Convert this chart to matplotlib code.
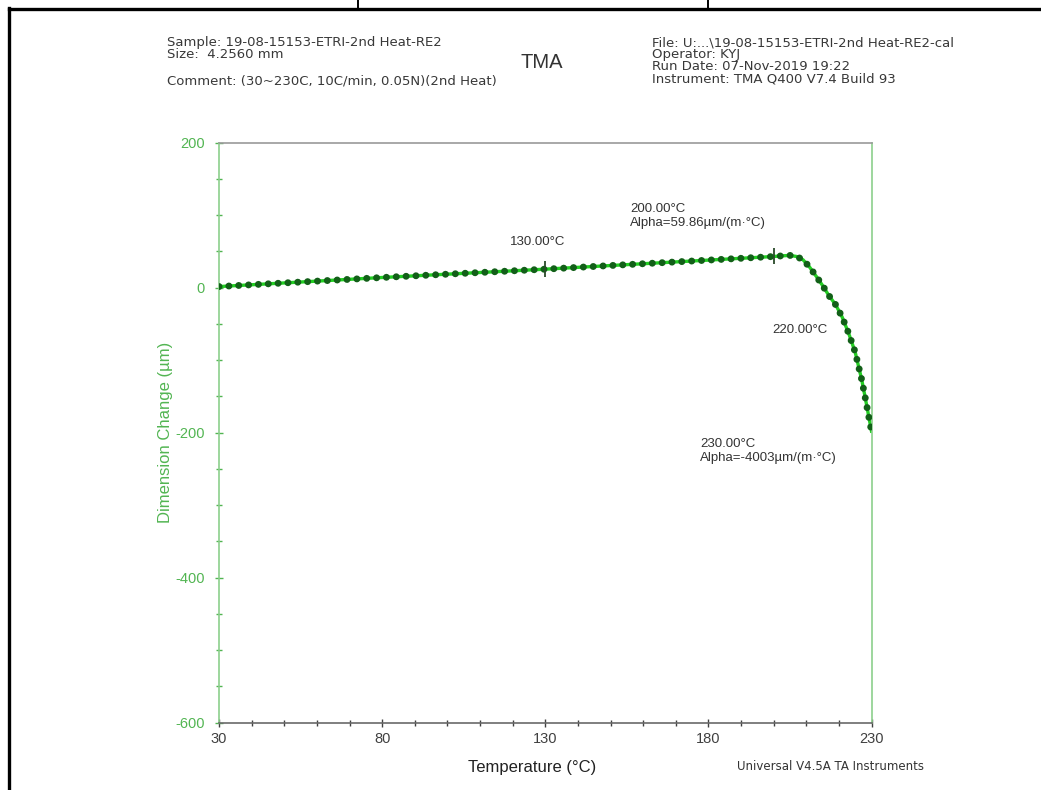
import matplotlib
matplotlib.use("Agg")
import matplotlib.pyplot as plt
from matplotlib.lines import Line2D
from matplotlib.ticker import MultipleLocator

plt.rcParams['font.family'] = ['Liberation Sans', 'DejaVu Sans']
plt.rcParams['axes.unicode_minus'] = False

# TMA run data: temperature (°C) and dimension change (µm)
temperature = [30, 80, 130, 180, 200, 203, 205, 207, 209, 211, 213, 215,
               217, 219, 221, 223, 225, 227, 228, 229, 230]
dimension_change = [1.5, 14.0, 25.5, 38.0, 43.0, 44.0, 44.5, 43.0, 38.5, 28.5,
                    16.0, 3.0, -11.3, -23.5, -40.5, -63.0, -89.0, -127.0,
                    -150.0, -174.0, -198.0]

# analysis cursor positions on the curve
cursor_temps = [130, 200]
cursor_values = [25.5, 43.0]

x_ticks = [30, 80, 130, 180, 230]
y_ticks = [200, 0, -200, -400, -600]

header_left = ["Sample: 19-08-15153-ETRI-2nd Heat-RE2", "Size:  4.2560 mm"]
comment = "Comment: (30~230C, 10C/min, 0.05N)(2nd Heat)"
header_right = ["File: U:...\\19-08-15153-ETRI-2nd Heat-RE2-cal",
                "Operator: KYJ",
                "Run Date: 07-Nov-2019 19:22",
                "Instrument: TMA Q400 V7.4 Build 93"]

W, H = 1041, 790
fig = plt.figure(figsize=(W / 100, H / 100), dpi=100)
fig.patch.set_facecolor('white')


def px(x, y):
    return x / W, 1 - y / H


# page frame lines
fig.add_artist(Line2D([9 / W, 9 / W], [0, 1 - 8 / H], color='black', lw=2.4,
                      transform=fig.transFigure))
fig.add_artist(Line2D([9 / W, 1], [1 - 8.5 / H, 1 - 8.5 / H], color='black',
                      lw=2.4, transform=fig.transFigure))
for xv in (358, 708):
    fig.add_artist(Line2D([xv / W, xv / W], [1 - 8 / H, 1], color='black',
                          lw=1.4, transform=fig.transFigure))

ax_l, ax_r, ax_t, ax_b = 219, 871.5, 142.7, 722.5
ax = fig.add_axes([ax_l / W, 1 - ax_b / H, (ax_r - ax_l) / W, (ax_b - ax_t) / H])

green_line = '#22d022'
green_dot = '#125f18'
green_axis = '#52b552'
gray_axis = '#404040'

# continuous trace plus evenly spaced round dots along it
ax.plot(temperature, dimension_change, color=green_line, lw=2.4, zorder=2,
        solid_joinstyle='round')
ax.plot(temperature, dimension_change, color=green_dot, lw=5.0,
        linestyle=(0, (0.01, 1.41)), dash_capstyle='round', zorder=3)
ax.plot(cursor_temps, cursor_values, linestyle='none', marker='|', ms=11,
        mew=1.3, color='#2a4a2a', zorder=4)

ax.set_xlim(30, 230)
ax.set_ylim(-600, 200)
ax.set_xticks(x_ticks)
ax.set_yticks(y_ticks)
ax.xaxis.set_minor_locator(MultipleLocator(10))
ax.yaxis.set_minor_locator(MultipleLocator(50))

ax.tick_params(axis='x', which='both', direction='inout', colors=gray_axis,
               labelsize=10.5, pad=4)
ax.tick_params(axis='x', which='major', length=6, width=1)
ax.tick_params(axis='x', which='minor', length=4, width=1)
ax.tick_params(axis='y', which='both', direction='inout', colors=green_axis,
               labelsize=10.5, pad=7)
ax.tick_params(axis='y', which='major', length=6, width=1)
ax.tick_params(axis='y', which='minor', length=4, width=1)

ax.spines['top'].set_color('#9a9a9a')
ax.spines['bottom'].set_color('#6a6a6a')
ax.spines['left'].set_color('#8ccf8c')
ax.spines['right'].set_color('#8ccf8c')
for s in ax.spines.values():
    s.set_linewidth(1.2)

ax.set_xlabel('Temperature (°C)', fontsize=12, color='#222222', labelpad=10)
ax.xaxis.label.set_x(0.48)
ax.set_ylabel('Dimension Change (µm)', fontsize=12, color=green_axis, labelpad=2)

# curve annotations
ann = dict(fontsize=9.5, color='#333333', ha='left', va='baseline')
fig.text(*px(510, 245), '130.00°C', **ann)
fig.text(*px(630, 212), '200.00°C', **ann)
fig.text(*px(630, 226), 'Alpha=59.86µm/(m·°C)', **ann)
fig.text(*px(772, 333), '220.00°C', **ann)
fig.text(*px(700, 447), '230.00°C', **ann)
fig.text(*px(700, 461), 'Alpha=-4003µm/(m·°C)', **ann)

# header block
hdr = dict(fontsize=9.5, family='DejaVu Sans', color='#383838', ha='left',
           va='baseline')
fig.text(*px(167, 46), header_left[0], **hdr)
fig.text(*px(167, 58), header_left[1], **hdr)
fig.text(*px(167, 84), comment, **hdr)
for i, line in enumerate(header_right):
    fig.text(*px(652, 46 + 12 * i), line, **hdr)
fig.text(*px(542, 63), 'TMA', fontsize=14.5, color='#333333', ha='center',
         va='center')

fig.text(*px(737, 767), 'Universal V4.5A TA Instruments', fontsize=8.5,
         family='DejaVu Sans', color='#333333', ha='left', va='center')

fig.savefig('out.png', dpi=100, facecolor='white')
